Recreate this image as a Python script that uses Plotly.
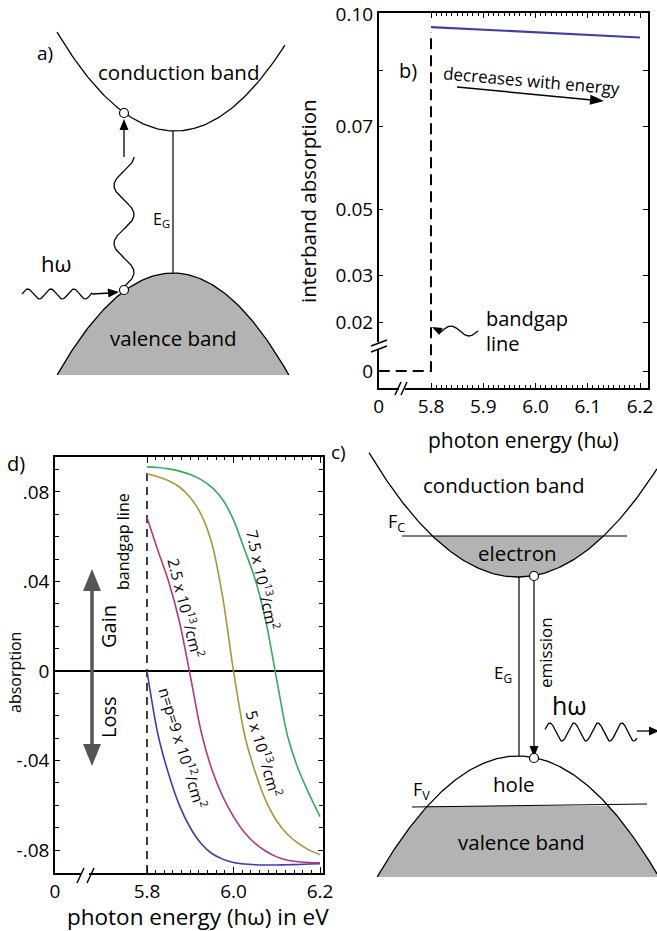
import numpy as np
import plotly.graph_objects as go

FONT = "Open Sans"
W, H = 657, 931

# ---------------- Panel b data ----------------
b_energy = [5.8, 6.2]
b_absorption = [0.0965, 0.0937]
b_bandgap_energy = 5.8
b_bandgap_top = 0.0952
b_ytick_values = [0.0, 0.02, 0.03, 0.05, 0.07, 0.10]
b_ytick_labels = ["0", "0.02", "0.03", "0.05", "0.07", "0.10"]
b_yminor_values = [0.085]
b_xtick_values = [5.8, 5.9, 6.0, 6.1, 6.2]
b_xtick_labels = ["5.8", "5.9", "6.0", "6.1", "6.2"]

# ---------------- Panel d data ----------------
d_energy = [5.800, 5.825, 5.850, 5.875, 5.900, 5.925, 5.950, 5.975, 6.000,
            6.025, 6.050, 6.075, 6.100, 6.125, 6.150, 6.175, 6.200]
d_n9e12 = [0.0000, -0.0280, -0.0460, -0.0600, -0.0700, -0.0770, -0.0815, -0.0840, -0.0855,
           -0.0862, -0.0865, -0.0866, -0.0866, -0.0865, -0.0864, -0.0862, -0.0860]
d_n25e13 = [0.0686, 0.0540, 0.0400, 0.0220, -0.0020, -0.0270, -0.0440, -0.0560, -0.0650,
            -0.0720, -0.0770, -0.0805, -0.0830, -0.0845, -0.0852, -0.0855, -0.0857]
d_n5e13 = [0.0880, 0.0868, 0.0850, 0.0822, 0.0775, 0.0700, 0.0570, 0.0330, 0.0000,
           -0.0280, -0.0450, -0.0580, -0.0670, -0.0730, -0.0770, -0.0800, -0.0820]
d_n75e13 = [0.0912, 0.0909, 0.0903, 0.0893, 0.0878, 0.0855, 0.0820, 0.0765, 0.0675,
            0.0545, 0.0410, 0.0220, -0.0040, -0.0290, -0.0440, -0.0550, -0.0650]
d_bandgap_energy = 5.8
d_bandgap_span = [-0.0902, 0.0890]
d_ytick_values = [-0.08, -0.04, 0.0, 0.04, 0.08]
d_ytick_labels = ["-.08", "-.04", "0", ".04", ".08"]
d_xtick_values = [5.8, 6.0, 6.2]
d_xtick_labels = ["5.8", "6.0", "6.2"]

# ---------------- scales / layout constants ----------------
B_X_RANGE = [5.6999, 6.2153]
B_SCALE_VALUES = [0.0, 0.02, 0.03, 0.05, 0.07, 0.10]   # hand-drawn non-uniform axis
B_SCALE_UNITS = [17, 66, 113, 179, 262, 374]
B_Y_RANGE = [0, 374.7]
D_X_RANGE = [5.5873, 6.2069]
D_Y_RANGE = [-0.0902, 0.0956]


def b_y(v):
    return np.interp(v, B_SCALE_VALUES, B_SCALE_UNITS)


def px_dom_x(a, b):
    return [a / W, b / W]


def px_dom_y(top, bottom):
    return [1 - bottom / H, 1 - top / H]


C_GREEN = "#3aa860"
C_GOLD = "#a8963a"
C_MAG = "#b23a7c"
C_BLUE = "#3d3db0"
C_BBLUE = "#3f3fa5"
GREY = "#b3b3b3"

fig = go.Figure()

# ---- panel b traces
fig.add_trace(go.Scatter(x=b_energy, y=b_y(b_absorption), mode="lines",
                         line=dict(color=C_BBLUE, width=2.2), xaxis="x", yaxis="y"))
fig.add_trace(go.Scatter(x=[B_X_RANGE[0], b_bandgap_energy, b_bandgap_energy],
                         y=b_y([0, 0, b_bandgap_top]), mode="lines",
                         line=dict(color="black", width=2, dash="11px,6px"), xaxis="x", yaxis="y"))

# ---- panel d traces
fig.add_trace(go.Scatter(x=[d_bandgap_energy, d_bandgap_energy], y=d_bandgap_span, mode="lines",
                         line=dict(color="black", width=1.5, dash="8px,6px"), xaxis="x2", yaxis="y2"))
for ser, col in [(d_n9e12, C_BLUE), (d_n25e13, C_MAG), (d_n5e13, C_GOLD), (d_n75e13, C_GREEN)]:
    fig.add_trace(go.Scatter(x=d_energy, y=ser, mode="lines", line=dict(color=col, width=1.6, shape="spline", smoothing=0.8),
                             xaxis="x2", yaxis="y2"))

# ---- diagram helpers (pixel overlay axes x3/y3)
def line(xs, ys, width=1.3, color="black"):
    fig.add_trace(go.Scatter(x=list(xs), y=list(ys), mode="lines",
                             line=dict(color=color, width=width),
                             xaxis="x3", yaxis="y3", hoverinfo="skip"))


def poly(xs, ys, color):
    fig.add_trace(go.Scatter(x=list(xs), y=list(ys), mode="lines", fill="toself", fillcolor=color,
                             line=dict(width=0, color=color), xaxis="x3", yaxis="y3", hoverinfo="skip"))


def head(tip, direction, length=10, half=4.5, color="black"):
    tx, ty = tip
    dx, dy = direction
    n = np.hypot(dx, dy)
    dx, dy = dx / n, dy / n
    bx, by = tx - dx * length, ty - dy * length
    px_, py_ = -dy, dx
    poly([tx, bx + px_ * half, bx - px_ * half, tx], [ty, by + py_ * half, by - py_ * half, ty], color)


def circles(xs, ys):
    fig.add_trace(go.Scatter(x=xs, y=ys, mode="markers",
                             marker=dict(symbol="circle", size=9, color="white", line=dict(color="black", width=1.2)),
                             xaxis="x3", yaxis="y3", hoverinfo="skip"))


# ---------- Panel a diagram ----------
xa = np.linspace(57, 285, 120)
line(xa, 131 - 0.0071 * (xa - 175) ** 2)
xv = np.linspace(173 - 115.8, 173 + 115.8, 120)
yv = 273 + 0.0076 * (xv - 173) ** 2
poly(list(xv) + [xv[0]], list(yv) + [yv[0]], GREY)
line(xv, yv)
line([173, 173], [131, 273], width=1.2)
# vertical wavy photon absorption
yy = np.linspace(287, 157, 200)
line(124 + 10 * np.sin(2 * np.pi * (287 - yy) / 58), yy, width=1.3)
line([124, 124], [157, 129], width=1.3)
head((124, 119), (0, -1), length=11, half=4.5)
# horizontal incoming photon
xx = np.linspace(22, 92, 200)
line(xx, 294 - 5 * np.sin(2 * np.pi * (xx - 22) / 23), width=1.3)
line([92, 110], [294, 293], width=1.3)
head((119, 292), (1, -0.1), length=11, half=4.5)
circles([124, 124], [113, 290])

# ---------- Panel c diagram ----------
xc = np.linspace(369, 657, 160)
yc = 577 - 0.0056 * (xc - 518) ** 2
xe = np.linspace(518 - 85.6, 518 + 85.6, 100)
ye = 577 - 0.0056 * (xe - 518) ** 2
poly(list(xe) + [xe[0]], list(ye) + [ye[0]], GREY)
line(xc, yc)
line([402, 627], [536, 536], width=1.2)
# valence band
xl = np.linspace(377.2, 518 - 90.5, 60)
xr = np.linspace(518 + 90.5, 657, 60)
fx = list(xl) + list(xr) + [657, 377.2]
fy = list(756 + 0.0061 * (xl - 518) ** 2) + list(756 + 0.0061 * (xr - 518) ** 2) + [877, 877]
poly(fx + [fx[0]], fy + [fy[0]], GREY)
xvc = np.linspace(377.2, 657, 160)
line(xvc, 756 + 0.0061 * (xvc - 518) ** 2)
line([412, 647], [807, 804], width=1.2)
line([519, 519], [577, 756], width=1.2)
line([534, 534], [576, 747], width=1.2)
head((534, 757), (0, 1), length=11, half=4.5)
xw = np.linspace(545, 637, 200)
line(xw, 732 - 9 * np.sin(2 * np.pi * (xw - 545) / 24 + 0.3), width=1.3)
line([637, 650], [731, 731], width=1.3)
head((659, 731), (1, 0), length=10, half=4.5)
circles([534, 534], [576, 758])

# ---------- panel d: gain/loss double arrow ----------
line([92, 92], [585, 750], width=3.5, color="#555555")
head((92, 569), (0, -1), length=22, half=9, color="#555555")
head((92, 766), (0, 1), length=22, half=9, color="#555555")

# ---------- panel b: arrows ----------
xb = np.linspace(478, 440, 80)
line(xb, 331 + 5 * np.sin(2 * np.pi * (478 - xb) / 36), width=1.3)
head((432, 327), (-1, -0.5), length=10, half=4)
line([457, 592], [87, 100], width=1.5)
head((604, 101), (146, 14), length=14, half=5)

# ---------- break marks (shapes) ----------
shapes = []
# b bottom axis
shapes.append(dict(type="line", xref="x3", yref="y3", x0=399, y0=388, x1=405, y1=388, line=dict(color="white", width=4), layer="above"))
for dx in (0, 6):
    shapes.append(dict(type="line", xref="x3", yref="y3", x0=395 + dx, y0=395, x1=401 + dx, y1=382,
                       line=dict(color="black", width=1.5), layer="above"))
# b left axis
shapes.append(dict(type="line", xref="x3", yref="y3", x0=378.7, y0=342, x1=378.7, y1=349, line=dict(color="white", width=4), layer="above"))
for dy in (0, 6):
    shapes.append(dict(type="line", xref="x3", yref="y3", x0=371, y0=346 + dy, x1=387, y1=340 + dy,
                       line=dict(color="black", width=1.5), layer="above"))
# d bottom axis
shapes.append(dict(type="line", xref="x3", yref="y3", x0=81, y0=873, x1=89, y1=873, line=dict(color="white", width=4), layer="above"))
for dx in (0, 10):
    shapes.append(dict(type="line", xref="x3", yref="y3", x0=77 + dx, y0=883, x1=84 + dx, y1=868,
                       line=dict(color="black", width=1.5), layer="above"))

# ---------- text ----------
ann = []


def txt(x, y, t, size=19, angle=0, xanchor="center"):
    ann.append(dict(x=x, y=y, xref="x3", yref="y3", text=t, showarrow=False, textangle=angle,
                    xanchor=xanchor, yanchor="middle", font=dict(family=FONT, size=size, color="black")))


# panel a
txt(45, 53, "a)", 19)
txt(178, 72, "conduction band", 20.5)
txt(173, 338, "valence band", 20.5)
txt(56, 263, "hω", 22)
txt(161, 219, "E<sub>G</sub>", 16)
# panel b
txt(408, 70, "b)", 20)
txt(531, 80, "decreases with energy", 17, angle=5)
txt(484, 318, "bandgap", 20, xanchor="left")
txt(484, 343, "line", 20, xanchor="left")
txt(308, 201, "interband absorption", 20.5, angle=-90)
txt(523, 440, "photon energy (hω)", 21)
# panel d
txt(16, 463, "d)", 20)
txt(15, 673, "absorption", 16, angle=-90)
txt(123, 542, "bandgap line", 16, angle=-90)
txt(108, 627, "Gain", 20, angle=-90)
txt(108, 717, "Loss", 20, angle=-90)
txt(263, 580, "7.5 x 10<sup>13</sup>/cm<sup>2</sup>", 15.5, angle=78)
txt(186, 608, "2.5 x 10<sup>13</sup>/cm<sup>2</sup>", 15.5, angle=76)
txt(264, 753, "5 x 10<sup>13</sup>/cm<sup>2</sup>", 15.5, angle=74)
txt(183, 748, "n=p=9 x 10<sup>12</sup>/cm<sup>2</sup>", 15.5, angle=73)
txt(198, 916, "photon energy (hω) in eV", 22.5)
# panel c
txt(338, 452, "c)", 19)
txt(503, 485, "conduction band", 20.5)
txt(517, 553, "electron", 20.5)
txt(396, 522, "F<sub>C</sub>", 18)
txt(514, 784, "hole", 20.5)
txt(521, 842, "valence band", 20.5)
txt(421, 790, "F<sub>V</sub>", 18)
txt(503, 673, "E<sub>G</sub>", 17)
txt(545, 653, "emission", 17, angle=-90)
txt(569, 705, "hω", 25)

axis_common = dict(showline=True, linecolor="black", linewidth=1.5, mirror="allticks", ticks="inside",
                   showgrid=False, zeroline=False, fixedrange=True, automargin=False,
                   tickfont=dict(family=FONT, size=19, color="black"), tickcolor="black")

fig.update_layout(
    width=W, height=H, margin=dict(l=0, r=0, t=0, b=0, autoexpand=False), showlegend=False,
    paper_bgcolor="white", plot_bgcolor="rgba(0,0,0,0)",
    xaxis=dict(domain=px_dom_x(378.7, 648), range=B_X_RANGE, anchor="y",
               tickvals=[B_X_RANGE[0]] + b_xtick_values, ticktext=["0"] + b_xtick_labels, ticklen=5,
               minor=dict(tickmode="array", tickvals=list(np.round(np.arange(5.8, 6.2001, 0.01), 3)),
                          ticklen=3, ticks="inside", tickcolor="black"),
               **axis_common),
    yaxis=dict(domain=px_dom_y(13.3, 388), range=B_Y_RANGE, anchor="x",
               tickvals=list(b_y(b_ytick_values)), ticktext=b_ytick_labels, ticklen=5,
               minor=dict(tickmode="array", tickvals=list(b_y(b_yminor_values)),
                          ticklen=5, ticks="inside", tickcolor="black"),
               **axis_common),
    xaxis2=dict(domain=px_dom_x(55, 323), range=D_X_RANGE, anchor="y2",
                tickvals=[D_X_RANGE[0]] + d_xtick_values, ticktext=["0"] + d_xtick_labels, ticklen=6,
                minor=dict(tickmode="array", tickvals=list(np.round(np.arange(5.8, 6.2001, 0.02), 3)),
                           ticklen=3, ticks="inside", tickcolor="black"),
                **axis_common),
    yaxis2=dict(domain=px_dom_y(457, 873), range=D_Y_RANGE, anchor="x2",
                tickvals=d_ytick_values, ticktext=d_ytick_labels, ticklen=5,
                minor=dict(tickmode="array", tickvals=list(np.round(np.arange(-0.09, 0.0901, 0.01), 3)),
                           ticklen=4, ticks="inside", tickcolor="black"),
                **{k: v for k, v in axis_common.items() if k != "zeroline"},
                zeroline=True, zerolinecolor="black", zerolinewidth=1.5),
    xaxis3=dict(domain=[0, 1], range=[0, W], visible=False, anchor="y3", fixedrange=True, automargin=False),
    yaxis3=dict(domain=[0, 1], range=[H, 0], visible=False, anchor="x3", fixedrange=True, automargin=False),
    shapes=shapes, annotations=ann,
)

fig.write_html("out.html", config={"displayModeBar": False},
               post_script="document.body.style.margin='0';")
